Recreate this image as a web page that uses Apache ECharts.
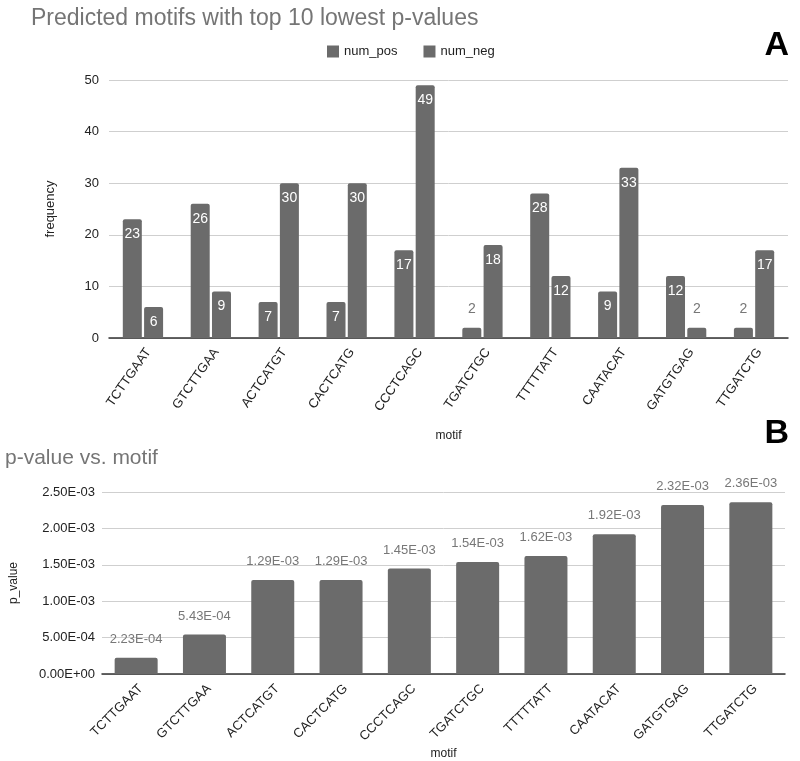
<!DOCTYPE html>
<html>
<head>
<meta charset="utf-8">
<script src="https://cdn.jsdelivr.net/npm/echarts@6/dist/echarts.min.js"></script>
<style>
	html, body { margin: 0; padding: 0; background: #fff; }
	#chart { width: 800px; height: 761px; }
</style>
</head>
<body>
<div id="chart"></div>
<script>
// motifs, same order in both panels
var motifs = ['TCTTGAAT','GTCTTGAA','ACTCATGT','CACTCATG','CCCTCAGC','TGATCTGC','TTTTTATT','CAATACAT','GATGTGAG','TTGATCTG'];
var numPos = [23, 26, 7, 7, 17, 2, 28, 9, 12, 2];
var numNeg = [6, 9, 30, 30, 49, 18, 12, 33, 2, 17];
var pValues = [2.23e-4, 5.43e-4, 1.29e-3, 1.29e-3, 1.45e-3, 1.54e-3, 1.62e-3, 1.92e-3, 2.32e-3, 2.36e-3];

var barColor = '#6b6b6b';
var font = "'Liberation Sans', Arial, sans-serif";

// 2.23E-04 style
function sci(v) {
	if (v === 0) return '0.00E+00';
	var s = v.toExponential(2).toUpperCase();
	var parts = s.split('E');
	var exp = parseInt(parts[1], 10);
	var sign = exp < 0 ? '-' : '+';
	var e = Math.abs(exp);
	return parts[0] + 'E' + sign + (e < 10 ? '0' + e : e);
}

// small bars get their label above in grey, others inside in white
function withLabels(arr) {
	return arr.map(function(v) {
		if (v < 4) {
			return { value: v, label: { position: 'top', distance: 12, color: '#777' } };
		}
		return v;
	});
}

var main = {
	el: 'chart',
	init: function() {
		var myChart = echarts.init(document.getElementById(this.el));
		var option = {
			animation: false,
			textStyle: { fontFamily: font },
			title: [
				{ text: 'Predicted motifs with top 10 lowest p-values', left: 26, top: 2,
					textStyle: { color: '#757575', fontSize: 23, fontWeight: 'normal', fontFamily: font } },
				{ text: 'p-value vs. motif', left: 0, top: 443,
					textStyle: { color: '#757575', fontSize: 21, fontWeight: 'normal', fontFamily: font } },
				{ text: 'A', right: 6, top: 24,
					textStyle: { color: '#000', fontSize: 34, fontWeight: 'bold', fontFamily: font } },
				{ text: 'B', right: 6, top: 412,
					textStyle: { color: '#000', fontSize: 34, fontWeight: 'bold', fontFamily: font } }
			],
			legend: {
				data: ['num_pos', 'num_neg'],
				left: 322, top: 40,
				icon: 'rect',
				itemWidth: 12, itemHeight: 12, itemGap: 26,
				textStyle: { color: '#222', fontSize: 13, fontFamily: font }
			},
			grid: [
				{ left: 109, right: 12, top: 80, height: 258 },
				{ left: 98, right: 15, top: 492, height: 186 }
			],
			xAxis: [
				{
					type: 'category', gridIndex: 0, data: motifs,
					name: 'motif', nameLocation: 'middle', nameGap: 92,
					nameTextStyle: { color: '#222', fontSize: 12 },
					axisLine: { lineStyle: { color: '#333', width: 1.5 } },
					axisTick: { show: false },
					axisLabel: { rotate: 55, color: '#222', fontSize: 13, margin: 8, interval: 0, verticalAlign: 'top' }
				},
				{
					type: 'category', gridIndex: 1, data: motifs,
					name: 'motif', nameLocation: 'middle', nameGap: 74,
					nameTextStyle: { color: '#222', fontSize: 12 },
					axisLine: { lineStyle: { color: '#333', width: 1.5 } },
					axisTick: { show: false },
					axisLabel: { rotate: 45, color: '#222', fontSize: 13, margin: 8, interval: 0, verticalAlign: 'top' }
				}
			],
			yAxis: [
				{
					type: 'value', gridIndex: 0, min: 0, max: 50, interval: 10,
					name: 'frequency', nameLocation: 'middle', nameGap: 52,
					nameTextStyle: { color: '#222', fontSize: 13 },
					axisLabel: { color: '#222', fontSize: 13, margin: 10 },
					splitLine: { lineStyle: { color: '#cfcfcf' } }
				},
				{
					type: 'value', gridIndex: 1, min: 0, max: 0.0025, interval: 0.0005,
					name: 'p_value', nameLocation: 'middle', nameGap: 82,
					nameTextStyle: { color: '#222', fontSize: 12 },
					axisLabel: { color: '#222', fontSize: 13, margin: 7, formatter: sci },
					splitLine: { lineStyle: { color: '#cfcfcf' } }
				}
			],
			series: [
				{
					name: 'num_pos', type: 'bar', xAxisIndex: 0, yAxisIndex: 0,
					data: withLabels(numPos),
					barWidth: 19, barGap: '12%',
					itemStyle: { color: barColor, borderRadius: [2, 2, 0, 0] },
					label: { show: true, position: 'insideTop', distance: 8, color: '#fff', fontSize: 14 }
				},
				{
					name: 'num_neg', type: 'bar', xAxisIndex: 0, yAxisIndex: 0,
					data: withLabels(numNeg),
					barWidth: 19,
					itemStyle: { color: barColor, borderRadius: [2, 2, 0, 0] },
					label: { show: true, position: 'insideTop', distance: 8, color: '#fff', fontSize: 14 }
				},
				{
					name: 'p_value', type: 'bar', xAxisIndex: 1, yAxisIndex: 1,
					data: pValues,
					barWidth: 43,
					itemStyle: { color: barColor, borderRadius: [2, 2, 0, 0] },
					label: { show: true, position: 'top', distance: 12, color: '#777', fontSize: 13, formatter: function(p) { return sci(p.value); } }
				}
			]
		};
		myChart.setOption(option);
	}
};

main.init();
</script>
</body>
</html>
